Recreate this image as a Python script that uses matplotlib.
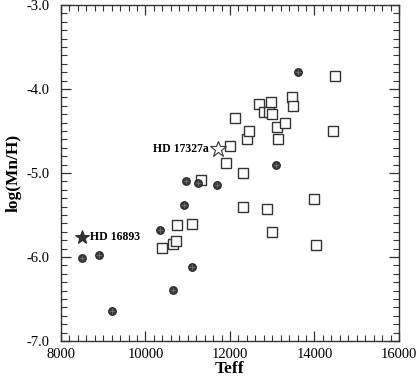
import matplotlib
matplotlib.use("Agg")
import matplotlib.pyplot as plt
from matplotlib.ticker import MultipleLocator

# filled circles
circ_teff = [8500, 8900, 9200, 10350, 10640, 10900, 11100, 10950, 11240, 11700, 13600, 13100]
circ_mn = [-6.01, -5.98, -6.64, -5.68, -6.39, -5.385, -6.12, -5.09, -5.115, -5.14, -3.80, -4.91]

# open squares
sq_teff = [10380, 10650, 10715, 10745, 11110, 11320, 11905, 12010, 12110, 12300,
           12310, 12400, 12440, 12695, 12800, 12875, 12915, 12970, 13000, 13000,
           13120, 13145, 13300, 13460, 13500, 13995, 14045, 14440, 14495]
sq_mn = [-5.89, -5.85, -5.81, -5.615, -5.605, -5.085, -4.88, -4.68, -4.35, -5.405,
         -5.005, -4.60, -4.495, -4.18, -4.275, -5.425, -4.275, -4.16, -4.30, -5.705,
         -4.45, -4.60, -4.40, -4.10, -4.20, -5.305, -5.855, -4.505, -3.85]

# the two labelled stars
star_names = ["HD 16893", "HD 17327a"]
star_teff = [8500, 11720]
star_mn = [-5.765, -4.72]

plt.rcParams['font.family'] = ['Liberation Serif', 'DejaVu Serif']

fig = plt.figure(figsize=(4.18, 3.76), dpi=100)
ax = fig.add_axes([0.1459, 0.0931, 0.8086, 0.8936])

ax.plot(sq_teff, sq_mn, 's', ms=7, mfc='white', mec='#333333', mew=1.0, ls='none')
ax.plot(circ_teff, circ_mn, 'o', ms=5.5, mfc='#3c3c3c', mec='#222222', mew=0.8, ls='none')
ax.plot(circ_teff, circ_mn, '+', ms=4, mec='#777777', mew=0.5, ls='none')

ax.plot(star_teff[0], star_mn[0], '*', ms=10, mfc='#333333', mec='#222222', mew=0.6)
ax.plot(star_teff[1], star_mn[1], '*', ms=12, mfc='white', mec='#333333', mew=0.8)

ax.annotate(star_names[0], (star_teff[0], star_mn[0]), xytext=(6, 0),
            textcoords='offset points', ha='left', va='center',
            fontsize=8.5, fontweight='bold')
ax.annotate(star_names[1], (star_teff[1], star_mn[1]), xytext=(-7, 0),
            textcoords='offset points', ha='right', va='center',
            fontsize=8.5, fontweight='bold')

ax.set_xlim(8000, 16000)
ax.set_ylim(-7.0, -3.0)
ax.xaxis.set_major_locator(MultipleLocator(2000))
ax.xaxis.set_minor_locator(MultipleLocator(200))
ax.yaxis.set_major_locator(MultipleLocator(1.0))
ax.yaxis.set_minor_locator(MultipleLocator(0.1))
ax.yaxis.set_major_formatter(plt.FormatStrFormatter('%.1f'))

ax.tick_params(which='both', direction='in', top=True, right=True,
               colors='#333333', labelcolor='black', labelsize=10.5)
ax.tick_params(which='major', length=7, width=0.9)
ax.tick_params(which='minor', length=4, width=0.8)
ax.tick_params(axis='x', pad=5)
ax.tick_params(axis='y', pad=8)
for s in ax.spines.values():
    s.set_color('#333333')
    s.set_linewidth(1.0)

ax.set_xlabel('Teff', fontsize=12.5, fontweight='bold', labelpad=0)
ax.set_ylabel('log(Mn/H)', fontsize=12.5, fontweight='bold', labelpad=4)

fig.savefig('out.png', dpi=100)
